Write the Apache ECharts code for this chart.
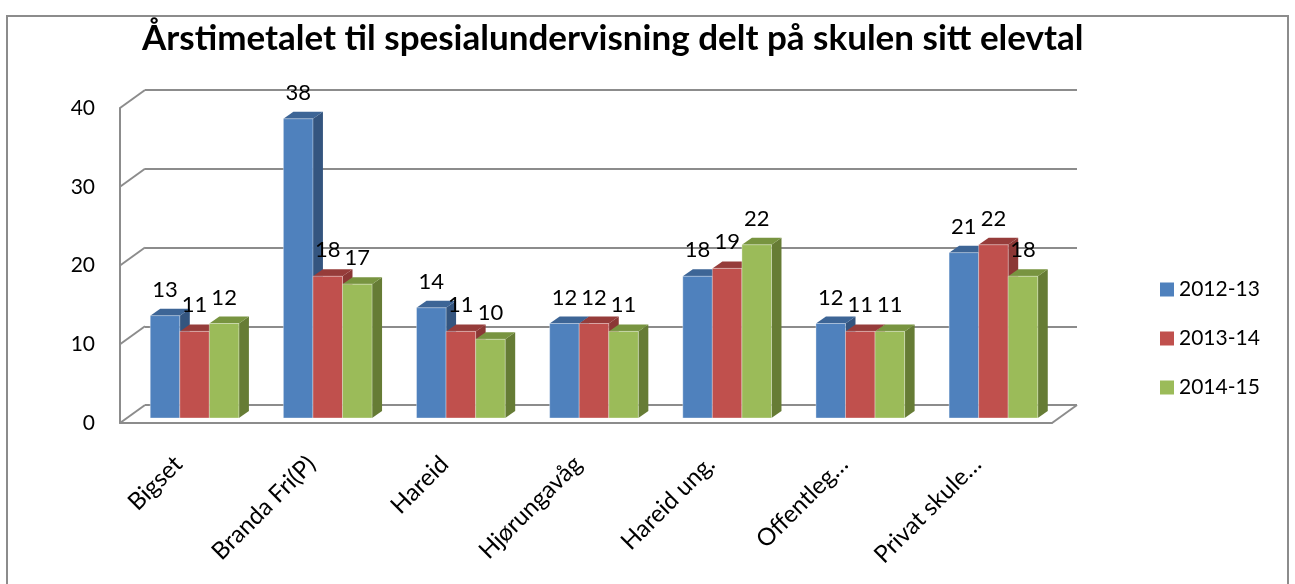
<!DOCTYPE html>
<html>
<head>
<meta charset="utf-8">
<script src="https://cdn.jsdelivr.net/npm/echarts@6/dist/echarts.min.js"></script>
<style>
  html, body { margin: 0; padding: 0; background: #fff; }
  #chart { width: 1295px; height: 584px; }
</style>
</head>
<body>
<div id="chart"></div>
<script>
// data
var categories = ['Bigset', 'Branda Fri(P)', 'Hareid', 'Hjørungavåg', 'Hareid ung.', 'Offentleg…', 'Privat skule…'];
var seriesNames = ['2012-13', '2013-14', '2014-15'];
var values1213 = [13, 38, 14, 12, 18, 12, 21];
var values1314 = [11, 18, 11, 12, 19, 11, 22];
var values1415 = [12, 17, 10, 11, 22, 11, 18];
var yTicks = [0, 10, 20, 30, 40];

var FONT = 'Lato, "Open Sans", sans-serif';
var GRID_COLOR = '#8c8c8c';

// pseudo 3D: front plane, bar plane and back wall
var FRONT = {left: 120, top: 108, width: 932, height: 315};
var DEPTH = [25, -18];        // front -> back wall
var BAR_SHIFT = [8, -5];      // front -> bar plane
var BAR_DEPTH = [10, -7];     // thickness of a bar
var BAR_RATIO = 0.222;        // bar width / category band

// front, side, top colours per series
var palette = [
    ['#4f81bd', '#34557f', '#3d6596'],
    ['#c0504d', '#8b3735', '#963c3a'],
    ['#9bbb59', '#667c35', '#789440']
];

function makeBarSeries(name, values, idx) {
    var col = palette[idx];
    return {
        name: name,
        type: 'custom',
        xAxisIndex: 0,
        yAxisIndex: 0,
        clip: false,
        itemStyle: {color: col[0]},
        data: values.map(function (v, i) { return [i, v]; }),
        encode: {x: 0, y: 1},
        renderItem: function (params, api) {
            var cat = api.value(0), val = api.value(1);
            var base = api.coord([cat, 0]);
            var top = api.coord([cat, val]);
            var band = api.size([1, 0])[0];
            var w = band * BAR_RATIO;
            var x0 = base[0] - 1.5 * w + idx * w;
            var dx = BAR_DEPTH[0], dy = BAR_DEPTH[1];
            var yt = top[1], yb = base[1];
            return {
                type: 'group',
                children: [
                    {
                        type: 'polygon',
                        shape: {points: [[x0 + w, yt], [x0 + w + dx, yt + dy], [x0 + w + dx, yb + dy], [x0 + w, yb]]},
                        style: {fill: col[1]}
                    },
                    {
                        type: 'polygon',
                        shape: {points: [[x0, yt], [x0 + dx, yt + dy], [x0 + w + dx, yt + dy], [x0 + w, yt]]},
                        style: {fill: col[2]}
                    },
                    {
                        type: 'rect',
                        shape: {x: x0, y: yt, width: w, height: yb - yt},
                        style: {fill: col[0], stroke: 'rgba(255,255,255,0.35)', lineWidth: 1}
                    },
                    {
                        type: 'text',
                        style: {
                            text: String(val), x: x0 + w / 2, y: yt - 26,
                            align: 'center', verticalAlign: 'middle',
                            fontSize: 22, fontFamily: FONT, fill: '#000'
                        }
                    }
                ]
            };
        }
    };
}

// slanted lines joining the front axis to the back wall
var connectorData = yTicks.map(function (v) { return [0, v]; });
connectorData.push([1, 0]);

var option = {
    animation: false,
    backgroundColor: '#fff',
    title: {
        text: 'Årstimetalet til spesialundervisning delt på skulen sitt elevtal',
        left: 137,
        top: 16,
        textStyle: {fontFamily: FONT, fontSize: 35, fontWeight: 'bold', color: '#000'}
    },
    legend: {
        data: seriesNames,
        orient: 'vertical',
        left: 1155,
        top: 274,
        icon: 'rect',
        itemWidth: 14,
        itemHeight: 14,
        itemGap: 28,
        textStyle: {fontFamily: FONT, fontSize: 21, lineHeight: 20, color: '#000'}
    },
    graphic: [{
        type: 'rect',
        shape: {x: 7, y: 16, width: 1281, height: 620},
        style: {fill: 'none', stroke: '#8c8c8c', lineWidth: 2},
        silent: true
    }],
    grid: [
        {left: FRONT.left + BAR_SHIFT[0], top: FRONT.top + BAR_SHIFT[1], width: FRONT.width, height: FRONT.height},
        {left: FRONT.left + DEPTH[0], top: FRONT.top + DEPTH[1], width: FRONT.width, height: FRONT.height},
        {left: FRONT.left, top: FRONT.top, width: FRONT.width, height: FRONT.height}
    ],
    xAxis: [
        {
            gridIndex: 0, type: 'category', data: categories,
            axisLine: {show: false}, axisTick: {show: false},
            axisLabel: {
                rotate: 45, margin: 43, interval: 0, verticalAlign: 'bottom',
                padding: [0, 11, 0, 0],
                fontFamily: FONT, fontSize: 24, color: '#000'
            }
        },
        {gridIndex: 1, type: 'value', min: 0, max: 1, show: false},
        {
            gridIndex: 2, type: 'value', min: 0, max: 1,
            axisLine: {show: true, lineStyle: {color: GRID_COLOR, width: 2}},
            axisTick: {show: false}, axisLabel: {show: false}, splitLine: {show: false}
        }
    ],
    yAxis: [
        {gridIndex: 0, type: 'value', min: 0, max: 40, interval: 10, show: false},
        {
            gridIndex: 1, type: 'value', min: 0, max: 40, interval: 10,
            axisLine: {show: false}, axisTick: {show: false}, axisLabel: {show: false},
            splitLine: {show: true, lineStyle: {color: GRID_COLOR, width: 2}}
        },
        {
            gridIndex: 2, type: 'value', min: 0, max: 40, interval: 10,
            axisLine: {show: true, lineStyle: {color: GRID_COLOR, width: 2}},
            axisTick: {show: false}, splitLine: {show: false},
            axisLabel: {margin: 25, fontFamily: FONT, fontSize: 21, color: '#000'}
        }
    ],
    series: [
        {
            type: 'custom',
            xAxisIndex: 2,
            yAxisIndex: 2,
            clip: false,
            silent: true,
            z: 1,
            data: connectorData,
            encode: {x: 0, y: 1},
            renderItem: function (params, api) {
                var p = api.coord([api.value(0), api.value(1)]);
                return {
                    type: 'line',
                    shape: {x1: p[0], y1: p[1], x2: p[0] + DEPTH[0], y2: p[1] + DEPTH[1]},
                    style: {stroke: GRID_COLOR, lineWidth: 2}
                };
            }
        },
        makeBarSeries(seriesNames[0], values1213, 0),
        makeBarSeries(seriesNames[1], values1314, 1),
        makeBarSeries(seriesNames[2], values1415, 2)
    ]
};

var chart = echarts.init(document.getElementById('chart'));
chart.setOption(option);
</script>
</body>
</html>
